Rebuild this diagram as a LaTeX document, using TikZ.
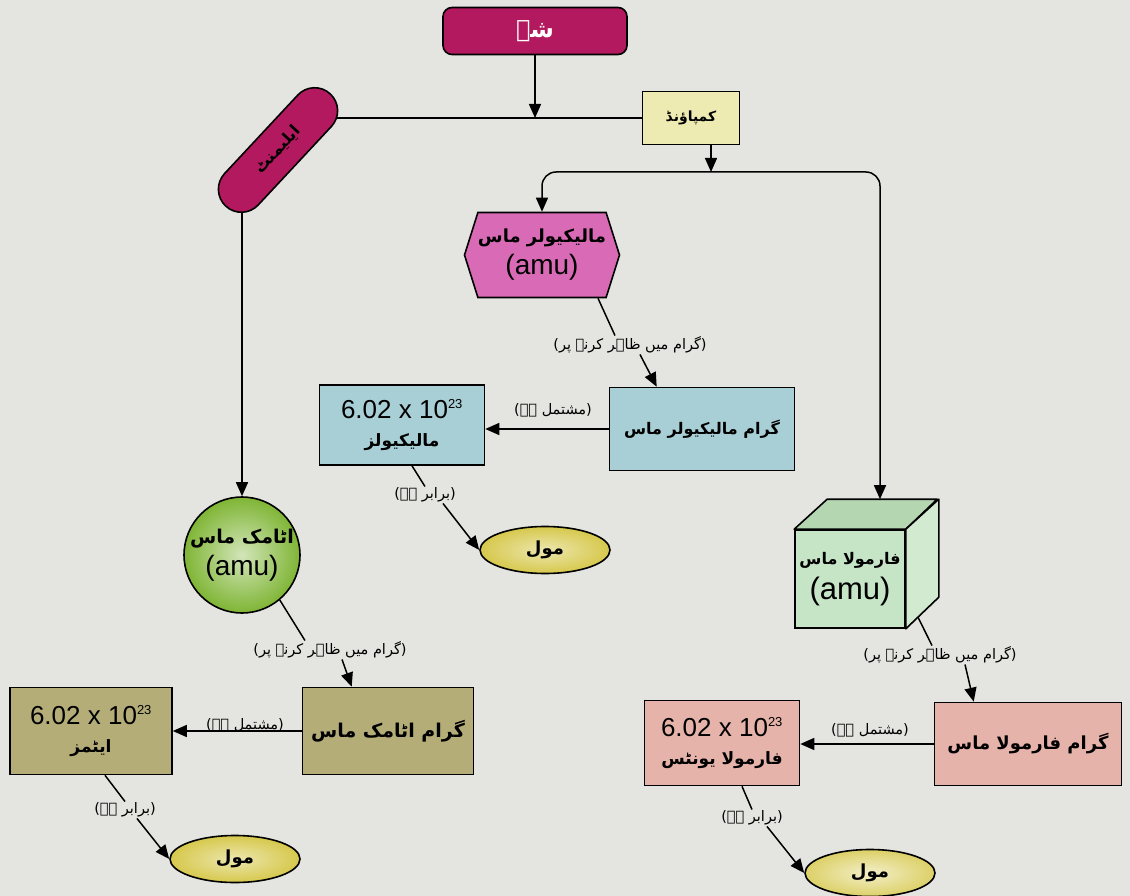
\documentclass[tikz,border=0pt]{standalone}
\usepackage{fontspec}
\setmainfont{Liberation Sans}
\newfontfamily\ur[Script=Arabic]{DejaVu Sans}
\TeXXeTstate=1
\usetikzlibrary{shapes.geometric,shapes.misc,shapes.symbols,calc,arrows.meta}
\newcommand{\fs}[1]{\fontsize{#1}{#1}\selectfont}
\newcommand{\numtxt}{\fontsize{26}{28}\selectfont}
\newcommand{\amutxt}{\fontsize{28}{30}\selectfont}
\definecolor{bg}{HTML}{E4E4E1}
\definecolor{she}{HTML}{B3195E}
\definecolor{compyel}{HTML}{EEEBB2}
\definecolor{hexpink}{HTML}{D96BB6}
\definecolor{lblue}{HTML}{A9CFD6}
\definecolor{olive}{HTML}{B5AD78}
\definecolor{salmon}{HTML}{E6B3AA}
\definecolor{moleyel}{HTML}{D6C84C}
\definecolor{atomgreen}{HTML}{7FB535}
\definecolor{cubefront}{HTML}{C6E5C6}
\definecolor{cubetopc}{HTML}{B4D7B2}
\definecolor{cubeside}{HTML}{D2EAD0}
\tikzset{
  box/.style={draw=black, line width=1.6pt, align=center, inner sep=2pt},
  arr/.style={-{Triangle[length=14pt,width=12pt]}, line width=1.5pt},
  ln/.style={line width=1.5pt},
  lbl/.style={font=\ur\fontsize{14.5}{16}\selectfont, inner sep=1pt},
  molenode/.style={ellipse, draw=black, line width=1.6pt, inner color=moleyel!45!white, outer color=moleyel, minimum width=130pt, minimum height=47pt, inner sep=0pt}
}
\begin{document}
\begin{tikzpicture}[x=1pt,y=-1pt]
\useasboundingbox (0,0) rectangle (1130,896);
\fill[bg] (0,0) rectangle (1130,896);

% top
\node[box, rounded corners=9pt, fill=she, minimum width=184pt, minimum height=47pt, text=white] (she) at (535,31) {{\ur\bfseries\fs{24}\beginR شے\endR}};
\node[box, fill=compyel, minimum width=97pt, minimum height=53pt] (comp) at (691,118) {{\ur\bfseries\fs{14}\beginR کمپاؤنڈ\endR}};

\coordinate (pillside) at (300,118);
\coordinate (pillfoot) at (242,185);
\coordinate (junc) at (711,172);

\draw[ln] (pillside) -- (comp.west);
\draw[arr] (she.south) -- (she.south |- comp.west);
\draw[arr] (comp.south -| junc) -- (junc);

% middle branch
\node[box, signal, signal to=west and east, signal pointer angle=145, fill=hexpink, minimum width=155pt, minimum height=85pt, inner sep=0pt, font=\amutxt] (hex) at (542,255) {{\ur\bfseries\fs{18}\beginR مالیکیولر ماس\endR}\\[2pt](amu)};
\node[box, fill=lblue, minimum width=185pt, minimum height=83pt] (gmm) at (702,429) {{\ur\bfseries\fs{16}\beginR گرام مالیکیولر ماس\endR}};
\node[box, fill=lblue, minimum width=165pt, minimum height=80pt, font=\numtxt] (mol6) at (402,425) {6.02 x 10\textsuperscript{\fs{13}23}\\[0pt]{\ur\bfseries\fs{17}\beginR مالیکیولز\endR}};
\node[molenode] (mole1) at (545,550) {{\ur\bfseries\fs{18}\beginR مول\endR}};
\node[lbl] (lab1) at (630,345) {\beginR (گرام میں ظاہر کرنے پر)\endR};
\node[lbl] (lab2) at (553,410) {\beginR (مشتمل ہے)\endR};
\node[lbl] (lab3) at (425,495) {\beginR (برابر ہے)\endR};

\draw[arr, rounded corners=14pt] (junc) -| (hex.north);
\draw[ln] ($(hex.south)+(56,0)$) -- ($(lab1.north)+(-15,0)$);
\draw[arr] ($(lab1.south)+(10,0)$) -- ($(gmm.north west)+(48,0)$);
\draw[arr] (gmm.west) -- (gmm.west -| mol6.east);
\draw[ln] ($(mol6.south)+(10,0)$) -- (lab3.north);
\draw[arr] ($(lab3.south)+(18,0)$) -- (mole1.west);

% left branch
\node[circle, draw=black, line width=1.6pt, inner color=atomgreen!35!white, outer color=atomgreen, minimum size=114pt, inner sep=0pt, align=center, font=\amutxt] (atom) at (242,555) {{\ur\bfseries\fs{19}\beginR اٹامک ماس\endR}\\[2pt](amu)};
\node[box, fill=olive, minimum width=171pt, minimum height=87pt] (gam) at (388,731) {{\ur\bfseries\fs{19}\beginR گرام اٹامک ماس\endR}};
\node[box, fill=olive, minimum width=162pt, minimum height=87pt, font=\numtxt] (atm6) at (91,731) {6.02 x 10\textsuperscript{\fs{13}23}\\[0pt]{\ur\bfseries\fs{17}\beginR ایٹمز\endR}};
\node[molenode] (mole2) at (235,859) {{\ur\bfseries\fs{18}\beginR مول\endR}};
\node[lbl] (lab4) at (330,650) {\beginR (گرام میں ظاہر کرنے پر)\endR};
\node[lbl] (lab5) at (245,725) {\beginR (مشتمل ہے)\endR};
\node[lbl] (lab6) at (125,810) {\beginR (برابر ہے)\endR};

\draw[arr] (pillfoot) -- (atom.north);
\draw[ln] (atom.-50) -- ($(lab4.north)+(-25,0)$);
\draw[arr] ($(lab4.south)+(12,0)$) -- ($(gam.north west)+(50,0)$);
\draw[arr] (gam.west) -- (gam.west -| atm6.east);
\draw[ln] ($(atm6.south)+(14,0)$) -- (lab6.north);
\draw[arr] ($(lab6.south)+(12,0)$) -- (mole2.west);

% pill (element)
\node[draw=black, line width=1.6pt, rounded rectangle, fill=she, rotate=47, minimum width=160pt, minimum height=46pt] (pill) at (278,150) {{\ur\bfseries\fs{16}\beginR ایلیمنٹ\endR}};

% right branch
\node[box, fill=cubefront, minimum width=110pt, minimum height=98pt, inner sep=0pt, font=\fontsize{31}{33}\selectfont] (cube) at (850,579) {{\ur\bfseries\fs{16}\beginR فارمولا ماس\endR}\\[2pt](amu)};
\filldraw[fill=cubetopc, draw=black, line width=1.6pt, line join=round] (cube.north west) -- ++(33,-30) -- ++(110,0) -- (cube.north east) -- cycle;
\filldraw[fill=cubeside, draw=black, line width=1.6pt, line join=round] (cube.north east) -- ++(33,-30) -- ++(0,98) -- (cube.south east) -- cycle;
\coordinate (cubetop) at ($(cube.north)+(30,-30)$);
\draw[arr, rounded corners=14pt] (junc) -| (cubetop);

\node[box, fill=salmon, minimum width=187pt, minimum height=83pt] (gfm) at (1028,744) {{\ur\bfseries\fs{18}\beginR گرام فارمولا ماس\endR}};
\node[box, fill=salmon, minimum width=155pt, minimum height=85pt, font=\numtxt] (fu6) at (722,743) {6.02 x 10\textsuperscript{\fs{13}23}\\[0pt]{\ur\bfseries\fs{17}\beginR فارمولا یونٹس\endR}};
\node[molenode, inner color=moleyel!30!white, outer color=moleyel!85!white] (mole3) at (870,873) {{\ur\bfseries\fs{18}\beginR مول\endR}};
\node[lbl] (lab7) at (940,655) {\beginR (گرام میں ظاہر کرنے پر)\endR};
\node[lbl] (lab8) at (870,730) {\beginR (مشتمل ہے)\endR};
\node[lbl] (lab9) at (752,818) {\beginR (برابر ہے)\endR};

\draw[ln] ($(cube.south east)+(12,-12)$) -- ($(lab7.north)+(-8,0)$);
\draw[arr] ($(lab7.south)+(25,0)$) -- ($(gfm.north west)+(40,0)$);
\draw[arr] (gfm.west) -- (gfm.west -| fu6.east);
\draw[ln] ($(fu6.south)+(20,0)$) -- (lab9.north);
\draw[arr] ($(lab9.south)+(15,0)$) -- (mole3.west);
\end{tikzpicture}
\end{document}
